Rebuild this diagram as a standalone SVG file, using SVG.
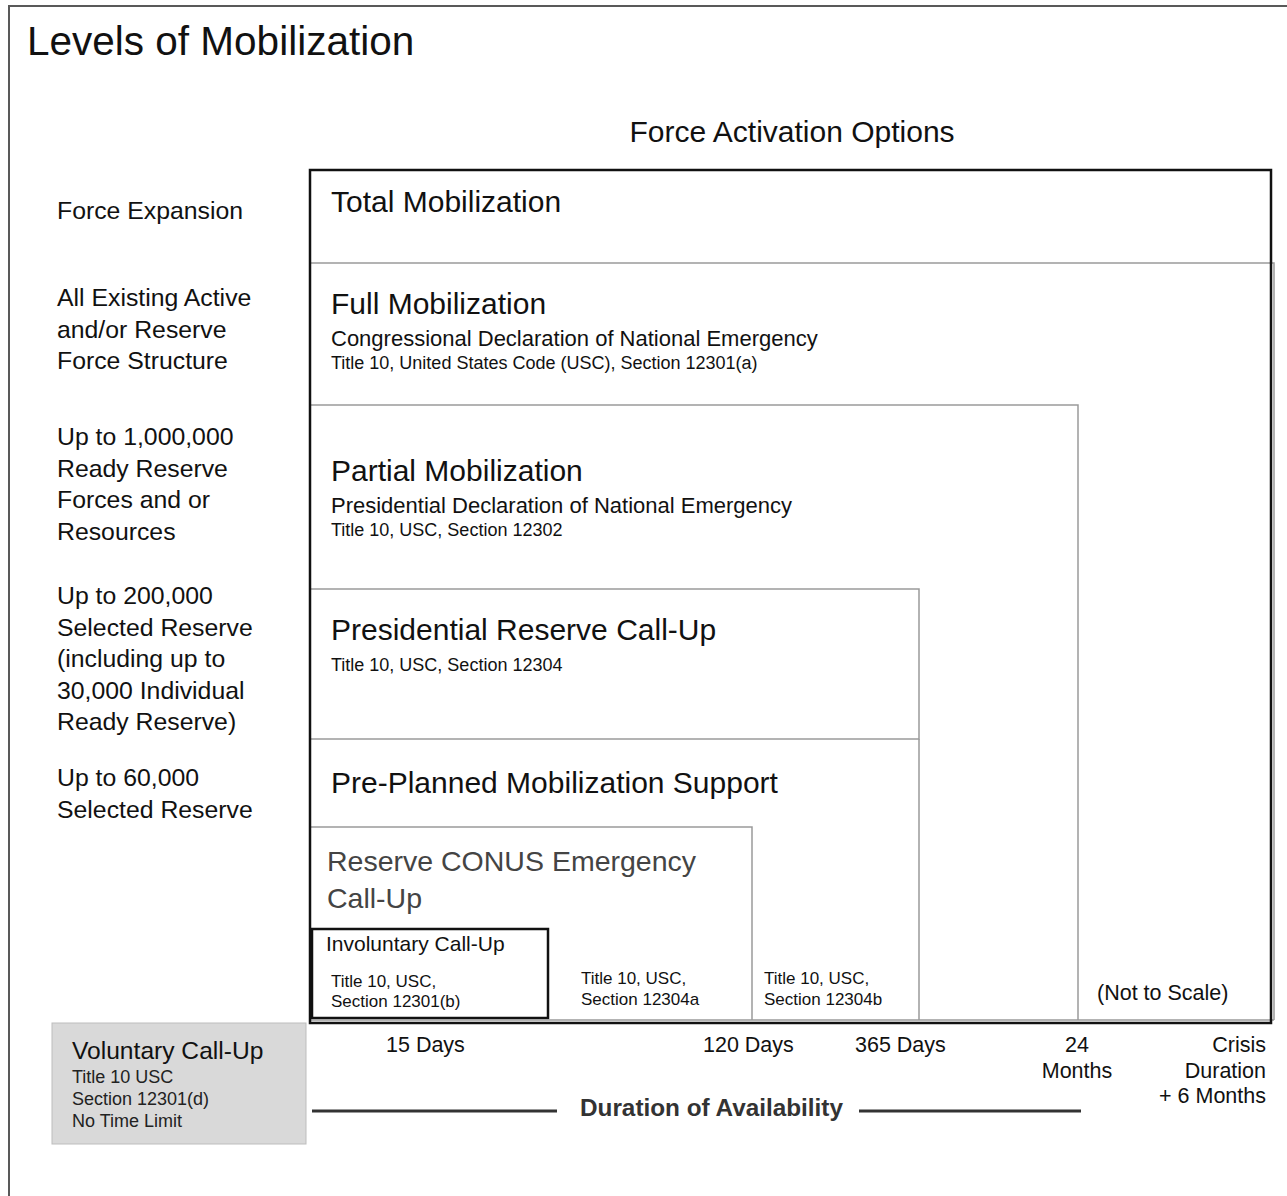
<svg xmlns="http://www.w3.org/2000/svg" width="1287" height="1196" viewBox="0 0 1287 1196">
<style>
text{font-family:"Liberation Sans",Arial,sans-serif;fill:#111}
.gl{fill:none;stroke:#9a9a9a;stroke-width:1.5}
.bk{fill:none;stroke:#111;stroke-width:2.5}
.h{font-size:30px}
.d{font-size:22px}
.s{font-size:18px}
.xs{font-size:17px}
.lab{font-size:24.8px}
.t{font-size:21.5px}
.v{font-size:18px;fill:#222}
</style>
<rect width="1287" height="1196" fill="#fff"/>
<path d="M9,1196 V6 H1287" fill="none" stroke="#595959" stroke-width="2"/>
<text x="27" y="55" font-size="40.5">Levels of Mobilization</text>
<text x="792" y="142" font-size="30" text-anchor="middle">Force Activation Options</text>

<g id="left-labels" class="lab">
<text x="57" y="219">Force Expansion</text>
<text x="57" y="306">All Existing Active</text>
<text x="57" y="338">and/or Reserve</text>
<text x="57" y="369">Force Structure</text>
<text x="57" y="445">Up to 1,000,000</text>
<text x="57" y="477">Ready Reserve</text>
<text x="57" y="508">Forces and or</text>
<text x="57" y="540">Resources</text>
<text x="57" y="604">Up to 200,000</text>
<text x="57" y="636">Selected Reserve</text>
<text x="57" y="667">(including up to</text>
<text x="57" y="699">30,000 Individual</text>
<text x="57" y="730">Ready Reserve)</text>
<text x="57" y="786">Up to 60,000</text>
<text x="57" y="818">Selected Reserve</text>
</g>

<g id="full">
<path class="gl" d="M311,263 H1274 V1020"/>
<text class="h" x="331" y="314">Full Mobilization</text>
<text class="d" x="331" y="346">Congressional Declaration of National Emergency</text>
<text class="s" x="331" y="369">Title 10, United States Code (USC), Section 12301(a)</text>
</g>
<g id="partial">
<path class="gl" d="M311,405 H1078 V1020"/>
<text class="h" x="331" y="481">Partial Mobilization</text>
<text class="d" x="331" y="513">Presidential Declaration of National Emergency</text>
<text class="s" x="331" y="536">Title 10, USC, Section 12302</text>
<text class="t" x="1097" y="1000">(Not to Scale)</text>
</g>
<g id="presidential">
<path class="gl" d="M311,589 H919 V739 H311"/>
<text class="h" x="331" y="640">Presidential Reserve Call-Up</text>
<text class="s" x="331" y="671">Title 10, USC, Section 12304</text>
</g>
<g id="preplanned">
<path class="gl" d="M919,739 V1020"/>
<text class="h" x="331" y="793">Pre-Planned Mobilization Support</text>
<text class="xs" x="764" y="984">Title 10, USC,</text>
<text class="xs" x="764" y="1005">Section 12304b</text>
</g>
<g id="conus">
<path class="gl" d="M311,827 H752 V1020"/>
<text x="327" y="871" font-size="28.5" style="fill:#444">Reserve CONUS Emergency</text>
<text x="327" y="908" font-size="28.5" style="fill:#444">Call-Up</text>
<text class="xs" x="581" y="984">Title 10, USC,</text>
<text class="xs" x="581" y="1005">Section 12304a</text>
</g>
<g id="involuntary">
<rect class="bk" x="312" y="929" width="236" height="89"/>
<text x="326" y="951" font-size="21">Involuntary Call-Up</text>
<text class="xs" x="331" y="987">Title 10, USC,</text>
<text class="xs" x="331" y="1007">Section 12301(b)</text>
</g>
<g id="total">
<path class="gl" d="M311,1020 H1274"/>
<rect x="310" y="170" width="961" height="853" fill="none" stroke="#111" stroke-width="2.5"/>
<text class="h" x="331" y="212">Total Mobilization</text>
</g>

<g id="voluntary">
<rect x="52" y="1023" width="254" height="121" fill="#d9d9d9" stroke="#bdbdbd" stroke-width="1"/>
<text x="72" y="1059" font-size="24.6">Voluntary Call-Up</text>
<text class="v" x="72" y="1083">Title 10 USC</text>
<text class="v" x="72" y="1105">Section 12301(d)</text>
<text class="v" x="72" y="1127">No Time Limit</text>
</g>

<g id="timeline">
<text class="t" x="386" y="1052">15 Days</text>
<text class="t" x="703" y="1052">120 Days</text>
<text class="t" x="855" y="1052">365 Days</text>
<text class="t" x="1077" y="1052" text-anchor="middle">24</text>
<text class="t" x="1077" y="1078" text-anchor="middle">Months</text>
<text class="t" x="1266" y="1052" text-anchor="end">Crisis</text>
<text class="t" x="1266" y="1078" text-anchor="end">Duration</text>
<text class="t" x="1266" y="1103" text-anchor="end">+ 6 Months</text>
</g>
<g id="connectors">
<path d="M312,1111 H557 M859,1111 H1081" stroke="#333" stroke-width="3"/>
</g>
<text x="580" y="1116" font-size="23" font-weight="bold" style="fill:#333" textLength="263" lengthAdjust="spacingAndGlyphs">Duration of Availability</text>
</svg>
